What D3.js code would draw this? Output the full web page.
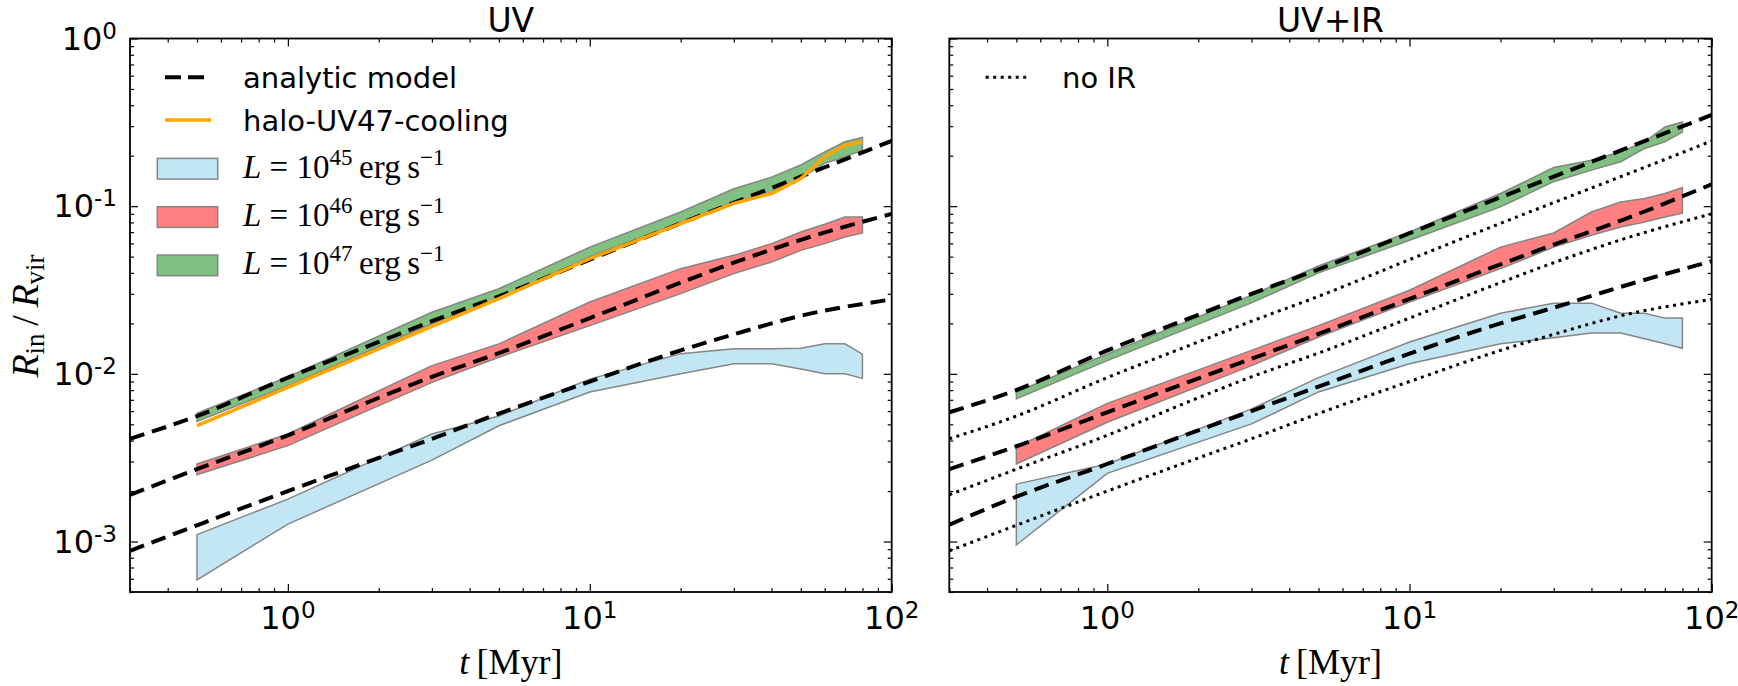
<!DOCTYPE html>
<html><head><meta charset="utf-8">
<script src="https://cdn.jsdelivr.net/npm/d3@7"></script>
<style>body{margin:0;background:#fff}svg{display:block}</style>
</head><body>
<svg id="chart" width="1738" height="686"></svg>
<script>
// ---------- data ----------
const times = [0.5, 1, 3, 5, 10, 20, 30, 40, 50, 60, 70, 80];
// UV panel bands
const uv45Lo = [5.9e-4, 1.27e-3, 3.06e-3, 4.9e-3, 7.8e-3, 0.0100, 0.0115, 0.0115, 0.0107, 0.0100, 0.0100, 0.0094];
const uv45Hi = [1.10e-3, 1.79e-3, 4.38e-3, 5.6e-3, 9.3e-3, 0.0132, 0.0141, 0.0141, 0.0142, 0.0151, 0.0151, 0.0131];
const uv46Lo = [2.50e-3, 3.73e-3, 8.9e-3, 0.01257, 0.0194, 0.0301, 0.0396, 0.0465, 0.0545, 0.0598, 0.0655, 0.0692];
const uv46Hi = [2.90e-3, 4.38e-3, 0.0112, 0.0151, 0.0268, 0.0424, 0.0509, 0.0598, 0.0702, 0.078, 0.0862, 0.0862];
const uv47Lo = [5.2e-3, 8.5e-3, 0.0199, 0.028, 0.050, 0.080, 0.106, 0.121, 0.147, 0.18, 0.197, 0.216];
const uv47Hi = [5.82e-3, 9.6e-3, 0.0233, 0.0322, 0.057, 0.0923, 0.127, 0.149, 0.176, 0.211, 0.242, 0.257];
const coolingUV47 = [4.91e-3, 8.3e-3, 0.0192, 0.0281, 0.0486, 0.0787, 0.104, 0.119, 0.146, 0.197, 0.231, 0.242];
// UV+IR panel bands
const ir45Lo = [9.55e-4, 2.55e-3, 5.03e-3, 7.8e-3, 0.0115, 0.0151, 0.0164, 0.0175, 0.0175, 0.0162, 0.0151, 0.0142];
const ir45Hi = [2.20e-3, 2.90e-3, 6.18e-3, 9.5e-3, 0.0155, 0.0230, 0.0264, 0.0264, 0.0230, 0.0230, 0.0215, 0.0215];
const ir46Lo = [2.90e-3, 5.14e-3, 0.0112, 0.0166, 0.0268, 0.0424, 0.057, 0.067, 0.0751, 0.0805, 0.0862, 0.091];
const ir46Hi = [3.65e-3, 6.67e-3, 0.0138, 0.0194, 0.0315, 0.057, 0.0692, 0.0923, 0.106, 0.111, 0.119, 0.129];
const ir47Lo = [7.09e-3, 0.0120, 0.0265, 0.040, 0.0626, 0.099, 0.140, 0.164, 0.184, 0.221, 0.242, 0.277];
const ir47Hi = [7.8e-3, 0.01316, 0.0295, 0.044, 0.0702, 0.119, 0.170, 0.188, 0.211, 0.242, 0.297, 0.318];
// analytic models
const modelT = [0.3, 0.5, 1, 2, 3, 5, 10, 20, 30, 50, 100];
const modelUV45 = [8.8e-4, 1.25e-3, 2.0e-3, 3.15e-3, 4.1e-3, 5.8e-3, 9.0e-3, 0.0138, 0.0172, 0.0222, 0.0278];
const modelUV46 = [1.9e-3, 2.7e-3, 4.3e-3, 7.2e-3, 9.6e-3, 0.0133, 0.0215, 0.035, 0.046, 0.063, 0.090];
const modelUV47 = [4.1e-3, 5.6e-3, 9.5e-3, 0.0155, 0.0206, 0.029, 0.048, 0.079, 0.105, 0.150, 0.245];
const modelIR45 = [1.26e-3, 1.85e-3, 2.9e-3, 4.6e-3, 6.0e-3, 8.4e-3, 0.0132, 0.0200, 0.0248, 0.0330, 0.047];
const modelIR46 = [2.7e-3, 3.7e-3, 5.9e-3, 9.4e-3, 0.0123, 0.0173, 0.028, 0.045, 0.059, 0.082, 0.135];
const modelIR47 = [5.9e-3, 8.0e-3, 0.0138, 0.0225, 0.030, 0.042, 0.069, 0.113, 0.150, 0.215, 0.35];
// ticks
const xMajor = [1, 10, 100];
const xMajorExp = ["0", "1", "2"];
const yMajor = [1e-3, 1e-2, 1e-1, 1];
const yMajorExp = ["-3", "-2", "-1", "0"];
const panelTitles = ["UV", "UV+IR"];
const bandLabels = ["45", "46", "47"];

// ---------- layout ----------
const svg = d3.select("#chart");
const yTop = 38.5, yBottom = 592;
const panels = [{x0: 130, x1: 891.7}, {x0: 949.3, x1: 1711.7}];
const y = d3.scaleLog().domain([5e-4, 1]).range([yBottom, yTop]);
const colors = {b: "rgb(195,230,245)", r: "rgb(255,128,128)", g: "rgb(128,192,128)"};
const edge = "#858585";
const tickFont = "'DejaVu Sans', sans-serif";
const serif = "'Liberation Serif', 'DejaVu Serif', serif";

function minorTicks(lo, hi) {
  const out = [];
  for (let e = -4; e <= 2; e++) for (let m = 2; m <= 9; m++) {
    const v = m * Math.pow(10, e);
    if (v >= lo * 0.999 && v <= hi * 1.001) out.push(v);
  }
  return out;
}

panels.forEach((p, pi) => {
  const x = d3.scaleLog().domain([0.3, 100]).range([p.x0, p.x1]);
  const g = svg.append("g");
  const clipId = "clip" + pi;
  svg.append("clipPath").attr("id", clipId).append("rect")
    .attr("x", p.x0).attr("y", yTop).attr("width", p.x1 - p.x0).attr("height", yBottom - yTop);
  const plot = g.append("g").attr("clip-path", `url(#${clipId})`);

  const area = (lo, hi) => d3.area().x((d, i) => x(times[i])).y0((d, i) => y(lo[i])).y1((d, i) => y(hi[i]))(times);
  const line = (vals) => d3.line().x((d, i) => x(modelT[i])).y((d, i) => y(vals[i])).curve(d3.curveMonotoneX)(modelT);

  const bands = pi === 0
    ? [[uv45Lo, uv45Hi, colors.b], [uv46Lo, uv46Hi, colors.r], [uv47Lo, uv47Hi, colors.g]]
    : [[ir45Lo, ir45Hi, colors.b], [ir46Lo, ir46Hi, colors.r], [ir47Lo, ir47Hi, colors.g]];
  bands.forEach(([lo, hi, c]) => {
    plot.append("path").attr("d", area(lo, hi)).attr("fill", c).attr("stroke", edge).attr("stroke-width", 1.5);
  });

  if (pi === 1) {
    [modelUV45, modelUV46, modelUV47].forEach(v => {
      plot.append("path").attr("d", line(v)).attr("fill", "none").attr("stroke", "#000")
        .attr("stroke-width", 3).attr("stroke-dasharray", "3,4.5");
    });
  }
  const models = pi === 0 ? [modelUV45, modelUV46, modelUV47] : [modelIR45, modelIR46, modelIR47];
  models.forEach(v => {
    plot.append("path").attr("d", line(v)).attr("fill", "none").attr("stroke", "#000")
      .attr("stroke-width", 4).attr("stroke-dasharray", "15,8");
  });
  if (pi === 0) {
    plot.append("path")
      .attr("d", d3.line().x((d, i) => x(times[i])).y((d, i) => y(coolingUV47[i]))(times))
      .attr("fill", "none").attr("stroke", "#ffa500").attr("stroke-width", 3.5);
  }

  // ticks on all four sides, pointing inward
  const xMinor = minorTicks(0.3, 100);
  const yMinor = minorTicks(5e-4, 1);
  [[d3.axisBottom(x), `translate(0,${yBottom})`], [d3.axisTop(x), `translate(0,${yTop})`]].forEach(([ax, tr]) => {
    g.append("g").attr("transform", tr).call(ax.tickValues(xMajor).tickSize(-8).tickFormat(""))
      .call(s => s.select(".domain").remove());
    g.append("g").attr("transform", tr).call(ax.tickValues(xMinor).tickSize(-4).tickFormat(""))
      .call(s => s.select(".domain").remove());
  });
  [[d3.axisLeft(y), `translate(${p.x0},0)`], [d3.axisRight(y), `translate(${p.x1},0)`]].forEach(([ax, tr]) => {
    g.append("g").attr("transform", tr).call(ax.tickValues(yMajor).tickSize(-8).tickFormat(""))
      .call(s => s.select(".domain").remove());
    g.append("g").attr("transform", tr).call(ax.tickValues(yMinor).tickSize(-4).tickFormat(""))
      .call(s => s.select(".domain").remove());
  });
  g.selectAll(".tick line").attr("stroke", "#000").attr("stroke-width", 1.2);

  g.append("rect").attr("x", p.x0).attr("y", yTop).attr("width", p.x1 - p.x0).attr("height", yBottom - yTop)
    .attr("fill", "none").attr("stroke", "#000").attr("stroke-width", 1.8);

  // x tick labels
  xMajor.forEach((v, i) => {
    const t = g.append("text").attr("x", x(v)).attr("y", 628.5).attr("text-anchor", "middle")
      .attr("font-family", tickFont).attr("font-size", 32).attr("fill", "#000");
    t.append("tspan").text("10");
    t.append("tspan").attr("dy", -11).attr("font-size", 23).text(xMajorExp[i]);
  });
  // y tick labels (left panel only)
  if (pi === 0) {
    yMajor.forEach((v, i) => {
      const t = g.append("text").attr("x", 117).attr("y", y(v) + 11).attr("text-anchor", "end")
        .attr("font-family", tickFont).attr("font-size", 32).attr("fill", "#000");
      t.append("tspan").text("10");
      t.append("tspan").attr("dy", -11).attr("font-size", 23).text(yMajorExp[i]);
    });
  }
  // title
  g.append("text").attr("x", (p.x0 + p.x1) / 2).attr("y", 32).attr("text-anchor", "middle")
    .attr("font-family", tickFont).attr("font-size", 33).text(panelTitles[pi]);
  // x label
  const xl = g.append("text").attr("x", (p.x0 + p.x1) / 2).attr("y", 674).attr("text-anchor", "middle")
    .attr("font-family", serif).attr("font-size", 36);
  xl.append("tspan").attr("font-style", "italic").text("t");
  xl.append("tspan").text("\u2009[Myr]");
});

// y label
const yl = svg.append("text").attr("transform", "translate(38,316) rotate(-90)").attr("text-anchor", "middle")
  .attr("font-family", serif).attr("font-size", 38);
yl.append("tspan").attr("font-style", "italic").text("R");
yl.append("tspan").attr("font-size", 27).attr("dy", 6).text("in");
yl.append("tspan").attr("dy", -6).text("\u2009/\u2009");
yl.append("tspan").attr("font-style", "italic").text("R");
yl.append("tspan").attr("font-size", 27).attr("dy", 6).text("vir");

// legend left panel
const lg = svg.append("g");
lg.append("line").attr("x1", 165).attr("x2", 205).attr("y1", 77.3).attr("y2", 77.3)
  .attr("stroke", "#000").attr("stroke-width", 4).attr("stroke-dasharray", "16,7");
lg.append("text").attr("x", 243).attr("y", 88).attr("font-family", tickFont).attr("font-size", 29).text("analytic model");
lg.append("line").attr("x1", 165).attr("x2", 211).attr("y1", 120).attr("y2", 120)
  .attr("stroke", "#ffa500").attr("stroke-width", 3.5);
lg.append("text").attr("x", 243).attr("y", 131).attr("font-family", tickFont).attr("font-size", 29).text("halo-UV47-cooling");
const patchY = [168.7, 217, 265.3];
[colors.b, colors.r, colors.g].forEach((c, i) => {
  lg.append("rect").attr("x", 157.3).attr("y", patchY[i] - 10.3).attr("width", 60.4).attr("height", 20.7)
    .attr("fill", c).attr("stroke", edge).attr("stroke-width", 1.5);
  const t = lg.append("text").attr("x", 243).attr("y", patchY[i] + 9).attr("font-family", serif).attr("font-size", 33);
  t.append("tspan").attr("font-style", "italic").text("L");
  t.append("tspan").text(" = 10");
  t.append("tspan").attr("dy", -13).attr("font-size", 23).text(bandLabels[i]);
  t.append("tspan").attr("dy", 13).text("\u2009erg\u2009s");
  t.append("tspan").attr("dy", -13).attr("font-size", 23).text("\u22121");
});
// legend right panel
lg.append("line").attr("x1", 985.7).attr("x2", 1029).attr("y1", 77.3).attr("y2", 77.3)
  .attr("stroke", "#000").attr("stroke-width", 3).attr("stroke-dasharray", "3,4.5");
lg.append("text").attr("x", 1062).attr("y", 88).attr("font-family", tickFont).attr("font-size", 29).text("no IR");
</script>
</body></html>
